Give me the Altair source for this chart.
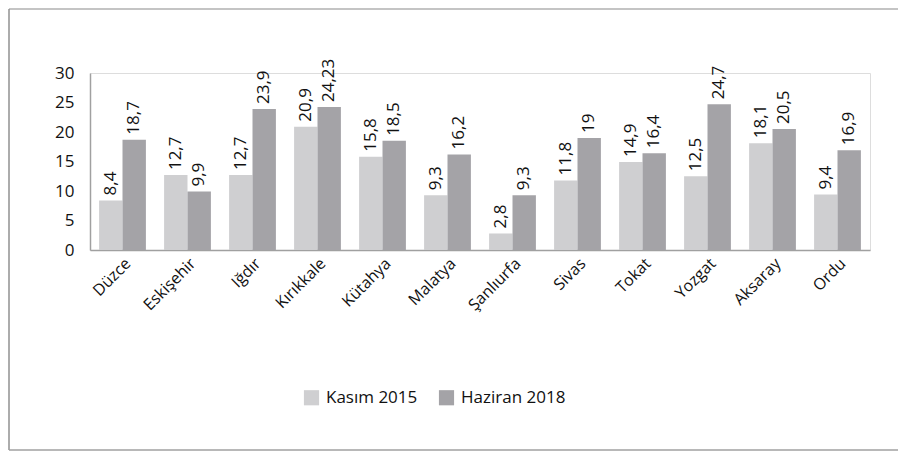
import altair as alt
import pandas as pd

cities = ["Düzce", "Eskişehir", "Iğdır", "Kırıkkale", "Kütahya", "Malatya",
          "Şanlıurfa", "Sivas", "Tokat", "Yozgat", "Aksaray", "Ordu"]
kasim_2015 = [8.4, 12.7, 12.7, 20.9, 15.8, 9.3, 2.8, 11.8, 14.9, 12.5, 18.1, 9.4]
haziran_2018 = [18.7, 9.9, 23.9, 24.23, 18.5, 16.2, 9.3, 19, 16.4, 24.7, 20.5, 16.9]
series = ["Kasım 2015", "Haziran 2018"]
colors = ["#cfcfd1", "#a4a3a7"]

rows = []
for i, c in enumerate(cities):
    rows.append({"city": c, "series": series[0], "value": kasim_2015[i]})
    rows.append({"city": c, "series": series[1], "value": haziran_2018[i]})
df = pd.DataFrame(rows)

FONT = "Open Sans"

base = alt.Chart(df).encode(
    x=alt.X("city:N", sort=cities,
            scale=alt.Scale(paddingInner=0.28, paddingOuter=0.14),
            axis=alt.Axis(title=None, labelAngle=-45, labelFontSize=16,
                          labelColor="#111", ticks=False, labelPadding=5,
                          domainColor="#a0a0a0", domainWidth=1.5)),
    xOffset=alt.XOffset("series:N", sort=series),
    y=alt.Y("value:Q", scale=alt.Scale(domain=[0, 30]),
            axis=alt.Axis(title=None, values=[0, 5, 10, 15, 20, 25, 30],
                          labelFontSize=17, labelColor="#111", ticks=False,
                          grid=False, labelPadding=16,
                          domainColor="#a0a0a0", domainWidth=1.5)),
)

bars = base.mark_bar().encode(
    color=alt.Color("series:N", sort=series,
                    scale=alt.Scale(domain=series, range=colors),
                    legend=alt.Legend(title=None, orient="none", direction="horizontal",
                                      legendX=213, legendY=316, symbolType="square",
                                      symbolSize=230, symbolStrokeWidth=0,
                                      labelFontSize=17, labelColor="#111",
                                      columnPadding=20, labelOffset=6)),
)

labels = base.mark_text(angle=270, align="left", baseline="middle", dx=5,
                        fontSize=17, color="#111").transform_calculate(
    label="replace(toString(datum.value), '.', ',')"
).encode(text="label:N")

frame_src = alt.Chart(pd.DataFrame({"f": [0]}))
frame_top = frame_src.mark_rule(color="#b0b0b0", strokeWidth=1.5).encode(
    x=alt.value(-81), x2=alt.value(820), y=alt.value(-64))
frame_left = frame_src.mark_rule(color="#909090", strokeWidth=1.5).encode(
    x=alt.value(-81), y=alt.value(-64), y2=alt.value(377))
frame_bottom = frame_src.mark_rule(color="#a0a0a0", strokeWidth=1.5).encode(
    x=alt.value(-81), x2=alt.value(820), y=alt.value(377))

chart = alt.layer(frame_top, frame_left, frame_bottom, bars, labels).properties(
    width=780, height=177,
    autosize=alt.AutoSizeParams(type="none"),
    padding={"left": 82, "top": 65, "right": 28, "bottom": 201},
).configure_view(stroke=None).configure(font=FONT)

chart.save("out.html", embed_options={"renderer": "svg", "actions": False})
